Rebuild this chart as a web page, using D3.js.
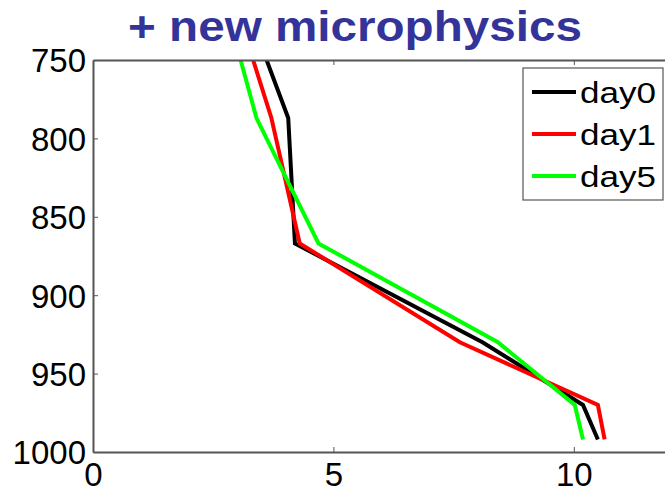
<!DOCTYPE html>
<html>
<head>
<meta charset="utf-8">
<script src="https://cdn.jsdelivr.net/npm/d3@7"></script>
<style>
  html, body { margin: 0; padding: 0; background: #fff; }
  svg { display: block; }
  text { font-family: "Liberation Sans", Arial, Helvetica, sans-serif; }
</style>
</head>
<body>
<svg id="chart" width="665" height="493"></svg>
<script>
// ---- data ----
const pressure = [750, 787, 867, 930, 970, 992];
const day0 = [3.61, 4.06, 4.20, 8.10, 10.19, 10.50];
const day1 = [3.33, 3.71, 4.30, 7.63, 10.50, 10.64];
const day5 = [3.07, 3.40, 4.69, 8.42, 10.02, 10.19];
const seriesNames = ["day0", "day1", "day5"];
const seriesColors = ["#000000", "#ff0000", "#00ff00"];
const xTicks = [0, 5, 10];
const yTicks = [750, 800, 850, 900, 950, 1000];
const titleText = "+ new microphysics";

// ---- layout ----
const svg = d3.select("#chart");
const mLeft = 93, mRight = 670, mTop = 60, mBottom = 452;

const x = d3.scaleLinear().domain([0, 12]).range([mLeft, mRight]);
const y = d3.scaleLinear().domain([750, 1000]).range([mTop, mBottom]);

const axisColor = "#555555";

// clip
svg.append("defs").append("clipPath").attr("id", "clip")
  .append("rect").attr("x", mLeft).attr("y", mTop)
  .attr("width", mRight - mLeft).attr("height", mBottom - mTop);

// lines
const series = [day0, day1, day5];
const line = d3.line()
  .x(d => x(d[0]))
  .y(d => y(d[1]));

const g = svg.append("g").attr("clip-path", "url(#clip)");
series.forEach((vals, i) => {
  g.append("path")
    .datum(vals.map((v, j) => [v, pressure[j]]))
    .attr("d", line)
    .attr("fill", "none")
    .attr("stroke", seriesColors[i])
    .attr("stroke-width", 4)
    .attr("stroke-linejoin", "miter");
});

// axes (box with inward ticks)
const bottomAxis = d3.axisBottom(x).tickValues(xTicks).tickSize(-5).tickSizeOuter(0).tickFormat(d3.format("d"));
const topAxis = d3.axisTop(x).tickValues(xTicks).tickSize(-5).tickSizeOuter(0).tickFormat("");
const leftAxis = d3.axisLeft(y).tickValues(yTicks).tickSize(-5).tickSizeOuter(0).tickFormat(d3.format("d"));
const rightAxis = d3.axisRight(y).tickValues(yTicks).tickSize(-5).tickSizeOuter(0).tickFormat("");

function styleAxis(sel) {
  sel.select(".domain").attr("stroke", axisColor).attr("stroke-width", 2);
  sel.selectAll(".tick line").attr("stroke", axisColor).attr("stroke-width", 1);
  sel.selectAll(".tick text").attr("fill", "#000").attr("font-size", 33)
     .attr("font-family", "'Liberation Sans', Arial, Helvetica, sans-serif");
}

const gb = svg.append("g").attr("transform", `translate(0,${mBottom})`).call(bottomAxis);
styleAxis(gb);
gb.selectAll(".tick text").attr("y", 0).attr("dy", 0).attr("transform", "translate(0,34)");

const gt = svg.append("g").attr("transform", `translate(0,${mTop})`).call(topAxis);
styleAxis(gt);

const gl = svg.append("g").attr("transform", `translate(${mLeft},0)`).call(leftAxis);
styleAxis(gl);
gl.selectAll(".tick text").attr("x", -7).attr("dy", "0.36em");

const gr = svg.append("g").attr("transform", `translate(${mRight},0)`).call(rightAxis);
styleAxis(gr);

// legend
const lg = svg.append("g");
lg.append("rect")
  .attr("x", 523).attr("y", 68).attr("width", 140).attr("height", 132)
  .attr("fill", "#fff").attr("stroke", axisColor).attr("stroke-width", 1.2);
seriesNames.forEach((name, i) => {
  const cy = 92 + i * 42;
  lg.append("line")
    .attr("x1", 532).attr("x2", 576).attr("y1", cy).attr("y2", cy)
    .attr("stroke", seriesColors[i]).attr("stroke-width", 4);
  lg.append("text")
    .attr("x", 580).attr("y", cy + 11)
    .attr("font-size", 29)
    .attr("textLength", 76).attr("lengthAdjust", "spacingAndGlyphs")
    .attr("fill", "#000")
    .text(name);
});

// title
svg.append("text")
  .attr("x", 128).attr("y", 41)
  .attr("font-size", 43).attr("font-weight", "bold")
  .attr("fill", "#333399")
  .attr("textLength", 454).attr("lengthAdjust", "spacingAndGlyphs")
  .text(titleText);
</script>
</body>
</html>
